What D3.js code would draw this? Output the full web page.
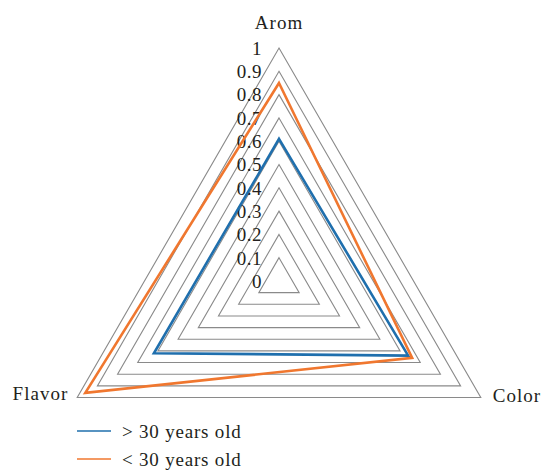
<!DOCTYPE html>
<html>
<head>
<meta charset="utf-8">
<script src="https://cdn.jsdelivr.net/npm/d3@7"></script>
<style>
  html, body { margin: 0; padding: 0; background: #fff; }
  text { font-family: "Liberation Serif", "Times New Roman", serif; fill: #231f20; }
</style>
</head>
<body>
<svg id="chart" width="542" height="470"></svg>
<script>
// Attributes around the radar
const categories = ["Arom", "Color", "Flavor"];

// Scores per age group
const olderValues = [0.61, 0.64, 0.62];   // > 30 years old
const youngerValues = [0.85, 0.66, 0.96]; // < 30 years old

const seriesNames = ["> 30 years old", "< 30 years old"];
const seriesColors = ["#1f6fad", "#f0772f"];

// Radial tick labels
const tickValues = [0, 0.1, 0.2, 0.3, 0.4, 0.5, 0.6, 0.7, 0.8, 0.9, 1];
const tickLabels = ["0", "0.1", "0.2", "0.3", "0.4", "0.5", "0.6", "0.7", "0.8", "0.9", "1"];

const svg = d3.select("#chart");
const cx = 279, cy = 281, R = 233;

const r = d3.scaleLinear().domain([0, 1]).range([0, R]);
const angle = d3.scalePoint().domain(categories.concat(["_end"])).range([0, 2 * Math.PI]);

const radial = d3.lineRadial()
  .angle(d => angle(d.cat))
  .radius(d => r(d.v))
  .curve(d3.curveLinearClosed);

const g = svg.append("g").attr("transform", `translate(${cx},${cy})`);

// Concentric grid triangles
g.selectAll("path.grid")
  .data(tickValues.filter(t => t > 0))
  .join("path")
  .attr("class", "grid")
  .attr("d", t => radial(categories.map(c => ({ cat: c, v: t }))))
  .attr("fill", "none")
  .attr("stroke", "#8a8a8a")
  .attr("stroke-width", 1.1);

// Tick labels along the top axis
g.selectAll("text.tick")
  .data(tickValues)
  .join("text")
  .attr("class", "tick")
  .attr("x", -17)
  .attr("y", t => -r(t))
  .attr("dy", "0.36em")
  .attr("text-anchor", "end")
  .style("font-size", "19px")
  .style("letter-spacing", "0.5px")
  .text((t, i) => tickLabels[i]);

// Data series
const series = [olderValues, youngerValues];
g.selectAll("path.series")
  .data(series)
  .join("path")
  .attr("class", "series")
  .attr("d", vals => radial(categories.map((c, i) => ({ cat: c, v: vals[i] }))))
  .attr("fill", "none")
  .attr("stroke", (d, i) => seriesColors[i])
  .attr("stroke-width", 2.6)
  .attr("stroke-linejoin", "miter");

// Category labels
const catPos = [
  { x: 0, y: -R - 19, anchor: "middle" },
  { x: R * Math.cos(Math.PI / 6) + 12, y: R * Math.sin(Math.PI / 6) + 4, anchor: "start" },
  { x: -R * Math.cos(Math.PI / 6) - 9, y: R * Math.sin(Math.PI / 6) + 2, anchor: "end" }
];
g.selectAll("text.cat")
  .data(categories)
  .join("text")
  .attr("class", "cat")
  .attr("x", (d, i) => catPos[i].x)
  .attr("y", (d, i) => catPos[i].y)
  .attr("text-anchor", (d, i) => catPos[i].anchor)
  .style("font-size", "19px")
  .style("letter-spacing", "1px")
  .text(d => d);

// Legend
const legend = svg.append("g").attr("transform", "translate(77,431)");
const items = legend.selectAll("g")
  .data(seriesNames)
  .join("g")
  .attr("transform", (d, i) => `translate(0,${i * 28})`);
items.append("line")
  .attr("x1", 0).attr("x2", 34)
  .attr("y1", 0).attr("y2", 0)
  .attr("stroke", (d, i) => seriesColors[i])
  .attr("stroke-width", 1.6);
items.append("text")
  .attr("x", 45)
  .attr("y", 7)
  .style("font-size", "19px")
  .style("letter-spacing", "0.8px")
  .text(d => d);
</script>
</body>
</html>
